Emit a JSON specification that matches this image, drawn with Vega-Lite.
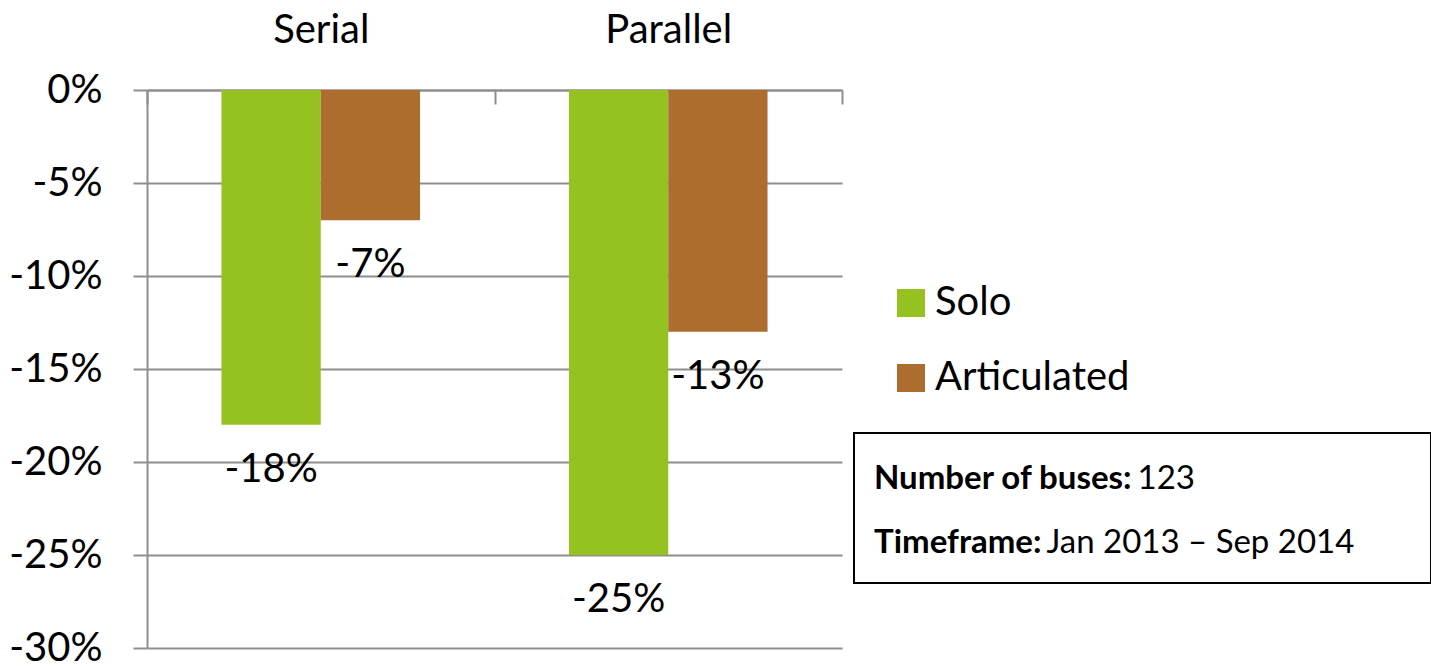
{
  "$schema": "https://vega.github.io/schema/vega-lite/v6.json",
  "background": "white",
  "padding": {"left": 8, "top": 10, "right": 0, "bottom": 0},
  "bounds": "flush",
  "spacing": 12,
  "config": {
    "font": "Lato",
    "view": {"stroke": null},
    "text": {"font": "Lato"}
  },
  "resolve": {"scale": {"color": "independent"}, "legend": {"color": "independent"}},
  "hconcat": [
    {
      "width": 695,
      "height": 558,
      "data": {
        "values": [
          {"mode": "Serial", "type": "Solo", "value": -18},
          {"mode": "Serial", "type": "Articulated", "value": -7},
          {"mode": "Parallel", "type": "Solo", "value": -25},
          {"mode": "Parallel", "type": "Articulated", "value": -13}
        ]
      },
      "encoding": {
        "x": {
          "field": "mode",
          "type": "nominal",
          "sort": ["Serial", "Parallel"],
          "scale": {"paddingInner": 0, "paddingOuter": 0},
          "axis": {
            "orient": "top",
            "title": null,
            "labelAngle": 0,
            "labelFontSize": 40,
            "labelColor": "black",
            "labelFont": "Lato",
            "domainColor": "#8e8e8e",
            "domainWidth": 2,
            "tickColor": "#8e8e8e",
            "tickWidth": 2,
            "tickSize": -14,
            "tickBand": "extent",
            "labelPadding": 54
          }
        },
        "xOffset": {
          "field": "type",
          "type": "nominal",
          "sort": ["Solo", "Articulated"],
          "scale": {"paddingInner": 0, "paddingOuter": 0.75}
        },
        "y": {
          "field": "value",
          "type": "quantitative",
          "scale": {"domain": [-30, 0], "nice": false, "zero": false},
          "axis": {
            "title": null,
            "values": [0, -5, -10, -15, -20, -25, -30],
            "labelExpr": "datum.value + '%'",
            "labelFontSize": 40,
            "labelFont": "Lato",
            "labelColor": "black",
            "labelPadding": 31,
            "domainColor": "#8e8e8e",
            "domainWidth": 2,
            "tickColor": "#8e8e8e",
            "tickWidth": 2,
            "tickSize": 14,
            "gridColor": "#8e8e8e",
            "gridWidth": 2
          }
        }
      },
      "layer": [
        {
          "mark": {"type": "bar"},
          "encoding": {
            "color": {
              "field": "type",
              "type": "nominal",
              "sort": ["Solo", "Articulated"],
              "scale": {"domain": ["Solo", "Articulated"], "range": ["#95C121", "#AD6D2E"]},
              "legend": {
                "orient": "none",
                "legendX": 744,
                "legendY": 193,
                "title": null,
                "padding": 0,
                "symbolType": "square",
                "symbolSize": 784,
                "symbolStrokeWidth": 0,
                "symbolOpacity": 1,
                "labelFontSize": 40,
                "labelFont": "Lato",
                "labelColor": "black",
                "labelOffset": 4,
                "labelLimit": 0,
                "rowPadding": 35
              }
            }
          }
        },
        {
          "mark": {
            "type": "text",
            "baseline": "middle",
            "align": "center",
            "dy": 45,
            "fontSize": 40,
            "color": "black",
            "text": {"expr": "datum.value + '%'"}
          }
        }
      ]
    },
    {
      "bounds": "flush",
      "spacing": 0,
      "vconcat": [
        {
          "width": 577,
          "height": 343,
          "data": {"values": []},
          "mark": "text"
        },
        {
          "width": 577,
          "height": 150,
          "view": {"stroke": "black", "strokeWidth": 2},
          "data": {
            "values": [
              {"line": "1", "bold": "Number of buses:", "normal": "123"},
              {"line": "2", "bold": "Timeframe:", "normal": "Jan 2013 – Sep 2014"}
            ]
          },
          "encoding": {
            "y": {
              "field": "line",
              "type": "ordinal",
              "scale": {"type": "point", "padding": 0.672, "align": 0.651},
              "axis": null
            }
          },
          "layer": [
            {
              "mark": {
                "type": "text",
                "align": "left",
                "baseline": "alphabetic",
                "fontSize": 33,
                "fontWeight": "bold",
                "color": "black",
                "dx": -268.5
              },
              "encoding": {"text": {"field": "bold"}}
            },
            {
              "mark": {
                "type": "text",
                "align": "left",
                "baseline": "alphabetic",
                "fontSize": 33,
                "color": "black",
                "dx": {"expr": "datum.line == '1' ? -5 : -96"}
              },
              "encoding": {"text": {"field": "normal"}}
            }
          ]
        }
      ]
    }
  ]
}
